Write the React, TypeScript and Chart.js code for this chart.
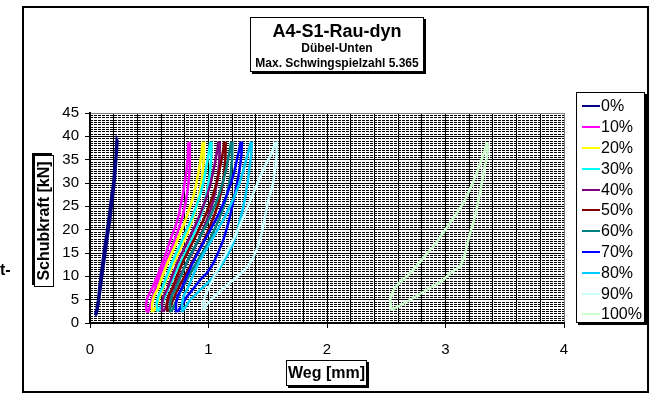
import React, { useEffect, useRef } from "react";
import { Chart, registerables } from "chart.js";

Chart.register(...registerables);

// ---------- data ----------
const chartTitle = "A4-S1-Rau-dyn";
const chartSubtitle1 = "Dübel-Unten";
const chartSubtitle2 = "Max. Schwingspielzahl 5.365";
const xTitle = "Weg [mm]";
const yTitle = "Schubkraft [kN]";
const strayText = "t-";

const seriesLabels = ["0%", "10%", "20%", "30%", "40%", "50%", "60%", "70%", "80%", "90%", "100%"];
const seriesColors = ["#000080", "#FF00FF", "#FFFF00", "#00FFFF", "#800080", "#800000", "#008080", "#0000FF", "#00CCFF", "#CCFFFF", "#CCFFCC"];

const xLabelValues = [0, 1, 2, 3, 4];
const yLabelValues = [0, 5, 10, 15, 20, 25, 30, 35, 40, 45];

// each loop: [Weg mm, Schubkraft kN]
const loop0: [number, number][] = [
  [0.042, 1.7], [0.055, 3], [0.068, 4.9], [0.08, 8], [0.095, 11], [0.105, 13], [0.12, 16], [0.14, 19.2], [0.155, 22], [0.166, 24.2], [0.172, 25.5], [0.185, 28], [0.197, 30], [0.205, 33], [0.212, 35], [0.218, 37], [0.225, 39.4],
  [0.232, 39], [0.226, 36.5], [0.219, 34], [0.21, 31], [0.198, 28], [0.183, 25], [0.172, 22.5], [0.158, 20], [0.146, 18], [0.13, 15], [0.113, 12], [0.1, 9.5], [0.085, 6.5], [0.07, 3.8], [0.055, 1.9], [0.042, 1.7],
];
const loop10: [number, number][] = [
  [0.478, 2.4], [0.472, 4], [0.485, 5.5], [0.52, 7.2], [0.55, 9], [0.577, 10.6], [0.6, 12.2], [0.619, 13.5], [0.645, 15.3], [0.669, 17.1], [0.7, 19.3], [0.731, 21.4], [0.752, 23.5], [0.774, 26.4], [0.79, 28.5], [0.802, 30.6], [0.815, 32.8], [0.821, 34.9], [0.826, 36.8], [0.83, 38.5],
  [0.842, 38.6], [0.843, 36], [0.842, 33.5], [0.835, 31], [0.824, 28.5], [0.808, 26], [0.787, 23.5], [0.762, 21.2], [0.735, 19.2], [0.708, 17.3], [0.68, 15.6], [0.65, 13.8], [0.623, 12.1], [0.592, 10.2], [0.565, 8.5], [0.54, 6.6], [0.522, 4.9], [0.505, 3.4], [0.49, 2.4], [0.478, 2.4],
];
const loop20: [number, number][] = [
  [0.529, 2.5], [0.524, 4.2], [0.54, 5.8], [0.575, 7.5], [0.619, 10.6], [0.655, 13], [0.689, 14.9], [0.725, 17], [0.76, 19.2], [0.79, 21], [0.816, 22.8], [0.845, 25], [0.872, 27.1], [0.895, 29.6], [0.914, 32.1], [0.93, 34.5], [0.942, 36.5], [0.951, 38.6],
  [0.962, 38.6], [0.96, 35], [0.948, 31.5], [0.93, 28.5], [0.905, 25.5], [0.875, 23], [0.84, 20.5], [0.8, 18], [0.76, 15.8], [0.72, 13.5], [0.68, 11.3], [0.64, 9], [0.605, 6.8], [0.575, 4.7], [0.55, 3], [0.529, 2.5],
];
const loop30: [number, number][] = [
  [0.568, 2.5], [0.563, 4.2], [0.578, 5.8], [0.61, 7.5], [0.655, 10.5], [0.69, 12.8], [0.725, 14.8], [0.765, 17], [0.8, 19], [0.835, 21], [0.865, 22.8], [0.9, 25.2], [0.93, 27.5], [0.955, 30], [0.975, 32.5], [0.992, 35], [1.005, 37], [1.013, 38.6],
  [1.025, 38.6], [1.022, 35], [1.01, 31.5], [0.99, 28.5], [0.965, 25.5], [0.935, 23], [0.9, 20.5], [0.86, 18], [0.815, 15.6], [0.77, 13.3], [0.73, 11.2], [0.69, 9], [0.65, 6.8], [0.615, 4.6], [0.59, 3], [0.568, 2.5],
];
const loop40: [number, number][] = [
  [0.613, 2.5], [0.608, 4.2], [0.622, 5.8], [0.655, 7.5], [0.7, 10.5], [0.735, 12.8], [0.772, 14.8], [0.815, 17], [0.853, 19], [0.89, 21], [0.922, 22.8], [0.958, 25.2], [0.99, 27.5], [1.018, 30], [1.04, 32.5], [1.06, 35], [1.074, 37], [1.083, 38.6],
  [1.095, 38.6], [1.092, 35], [1.08, 31.5], [1.06, 28.5], [1.033, 25.5], [1.0, 23], [0.962, 20.5], [0.92, 18], [0.873, 15.6], [0.825, 13.3], [0.782, 11.2], [0.738, 9], [0.695, 6.8], [0.658, 4.6], [0.635, 3], [0.613, 2.5],
];
const loop50: [number, number][] = [
  [0.653, 2.5], [0.648, 4.2], [0.662, 5.8], [0.695, 7.5], [0.742, 10.5], [0.778, 12.8], [0.816, 14.8], [0.86, 17], [0.9, 19], [0.937, 21], [0.97, 22.8], [1.007, 25.2], [1.04, 27.5], [1.068, 30], [1.09, 32.5], [1.11, 35], [1.124, 37], [1.133, 38.6],
  [1.145, 38.6], [1.142, 35], [1.13, 31.5], [1.11, 28.5], [1.082, 25.5], [1.048, 23], [1.01, 20.5], [0.966, 18], [0.918, 15.6], [0.868, 13.3], [0.823, 11.2], [0.778, 9], [0.733, 6.8], [0.695, 4.6], [0.672, 3], [0.653, 2.5],
];
const loop60: [number, number][] = [
  [0.681, 2.5], [0.676, 4.2], [0.69, 5.8], [0.725, 7.5], [0.775, 10.5], [0.812, 12.8], [0.852, 14.8], [0.898, 17], [0.94, 19], [0.98, 21], [1.015, 22.8], [1.055, 25.2], [1.09, 27.5], [1.12, 30], [1.145, 32.5], [1.165, 35], [1.18, 37], [1.19, 38.6],
  [1.202, 38.6], [1.199, 35], [1.186, 31.5], [1.165, 28.5], [1.135, 25.5], [1.1, 23], [1.06, 20.5], [1.013, 18], [0.962, 15.6], [0.908, 13.3], [0.86, 11.2], [0.812, 9], [0.765, 6.8], [0.725, 4.6], [0.7, 3], [0.681, 2.5],
];
const loop70: [number, number][] = [
  [0.731, 2.5], [0.726, 4.2], [0.74, 5.8], [0.775, 7.5], [0.825, 10.5], [0.865, 12.8], [0.905, 14.8], [0.952, 17], [0.995, 19], [1.037, 21], [1.075, 22.8], [1.118, 25.2], [1.155, 27.5], [1.19, 30], [1.218, 32.5], [1.24, 35], [1.258, 37], [1.27, 38.6],
  [1.282, 38.6], [1.278, 36], [1.266, 33.5], [1.245, 30.5], [1.224, 27.8], [1.2, 25], [1.181, 22.8], [1.155, 20.3], [1.125, 17.8], [1.085, 15.3], [1.041, 12.8], [0.99, 10.8], [0.928, 9.2], [0.87, 7.3], [0.816, 5.6], [0.775, 3.8], [0.745, 2.6], [0.731, 2.5],
];
const loop80: [number, number][] = [
  [0.782, 2.5], [0.777, 4.2], [0.79, 5.8], [0.825, 7.5], [0.875, 10.5], [0.915, 12.8], [0.958, 14.8], [1.008, 17], [1.055, 19], [1.1, 21], [1.14, 22.8], [1.185, 25.2], [1.225, 27.5], [1.262, 30], [1.292, 32.5], [1.318, 35], [1.34, 37], [1.356, 38.6],
  [1.366, 38.6], [1.36, 36], [1.345, 33], [1.33, 30], [1.31, 27], [1.29, 24.5], [1.265, 22], [1.238, 19.2], [1.2, 16.5], [1.153, 14.2], [1.1, 12], [1.041, 9.9], [0.985, 8.4], [0.928, 7.06], [0.88, 5.8], [0.844, 4.9], [0.81, 3.6], [0.788, 2.8], [0.782, 2.5],
];
const loop90: [number, number][] = [
  [0.962, 2.8], [0.958, 4.5], [0.975, 6], [1.01, 8], [1.06, 10.6], [1.105, 13], [1.15, 15], [1.2, 17.5], [1.25, 20], [1.3, 23], [1.345, 25.8], [1.39, 28.5], [1.43, 31], [1.48, 33.8], [1.525, 36], [1.565, 38.6],
  [1.578, 38.6], [1.575, 36], [1.565, 33.5], [1.545, 30], [1.525, 28], [1.505, 26.4], [1.478, 23], [1.449, 19.2], [1.415, 16.3], [1.37, 13.6], [1.32, 11.8], [1.255, 10.2], [1.18, 8.6], [1.097, 6.8], [1.03, 5.2], [0.98, 3.8], [0.962, 2.8],
];
const loop100: [number, number][] = [
  [2.546, 2.8], [2.532, 4.9], [2.56, 7.1], [2.61, 8.6], [2.672, 9.9], [2.73, 11.5], [2.785, 13.1], [2.84, 14.8], [2.897, 16.4], [2.95, 18.2], [2.996, 19.9], [3.045, 21.7], [3.094, 23.5], [3.14, 25.3], [3.179, 27.1], [3.22, 29.5], [3.263, 32.1], [3.3, 34.7], [3.333, 37.1], [3.347, 38.5],
  [3.353, 38.5], [3.355, 36.5], [3.345, 35], [3.33, 33.5], [3.31, 30.5], [3.291, 27.8], [3.27, 25.3], [3.249, 22.8], [3.228, 21], [3.207, 19.2], [3.185, 17], [3.165, 14.9], [3.145, 13.3], [3.122, 12.1], [3.08, 11.4], [3.038, 10.6], [2.968, 8.9], [2.9, 8], [2.841, 7.06], [2.77, 6], [2.7, 4.92], [2.62, 3.8], [2.546, 2.8],
];

const loops = [loop0, loop10, loop20, loop30, loop40, loop50, loop60, loop70, loop80, loop90, loop100];

// ---------- styles ----------
const FONT = "'Liberation Sans', Arial, Helvetica, sans-serif";
const near = (a: number, b: number) => Math.abs(a - b) < 1e-6;

export default function App() {
  const canvasRef = useRef<HTMLCanvasElement | null>(null);

  useEffect(() => {
    if (!canvasRef.current) return;
    const n = seriesLabels.length;
    const chart = new Chart(canvasRef.current, {
      type: "scatter",
      data: {
        datasets: seriesLabels.map((label, i) => ({
          label,
          data: loops[i].map(([x, y]) => ({ x, y })),
          showLine: true,
          borderColor: seriesColors[i],
          backgroundColor: seriesColors[i],
          borderWidth: 2.5,
          pointRadius: 0,
          pointHoverRadius: 0,
          tension: 0,
          fill: false,
          order: n - i,
        })),
      },
      options: {
        responsive: false,
        animation: false,
        devicePixelRatio: 1,
        layout: { padding: { left: 0, top: 113, right: 91, bottom: 0 } },
        plugins: {
          legend: { display: false },
          tooltip: { enabled: false },
          title: { display: false },
        },
        scales: {
          x: {
            type: "linear",
            position: "bottom",
            min: 0,
            max: 4,
            afterFit: (s: any) => {
              s.height = 71;
            },
            ticks: {
              stepSize: 0.2,
              maxTicksLimit: 1000,
              autoSkip: false,
              maxRotation: 0,
              minRotation: 0,
              padding: 13,
              color: "#000",
              font: { family: FONT, size: 15 },
              callback: (v: any) => {
                const hit = xLabelValues.find((t) => near(t, Number(v)));
                return hit === undefined ? "" : String(hit);
              },
            },
            grid: {
              color: (ctx: any) => (ctx.tick && near(ctx.tick.value, 4) ? "#808080" : "#000"),
              lineWidth: 1,
              tickLength: 5,
              tickColor: (ctx: any) =>
                ctx.tick && xLabelValues.some((t) => near(t, ctx.tick.value)) ? "#000" : "rgba(0,0,0,0)",
            },
            border: { color: "#000", width: 2 },
          },
          y: {
            type: "linear",
            position: "left",
            min: 0,
            max: 45,
            afterFit: (s: any) => {
              s.width = 90;
            },
            ticks: {
              stepSize: 5,
              autoSkip: false,
              padding: 6,
              color: "#000",
              font: { family: FONT, size: 15 },
              callback: (v: any) => {
                const hit = yLabelValues.find((t) => near(t, Number(v)));
                return hit === undefined ? "" : String(hit);
              },
            },
            grid: {
              color: (ctx: any) => (ctx.tick && near(ctx.tick.value, 45) ? "#808080" : "#000"),
              lineWidth: 1,
              tickLength: 5,
              tickColor: "#000",
            },
            border: { color: "#000", width: 2 },
          },
          yMinor: {
            type: "linear",
            position: "left",
            min: 0,
            max: 45,
            afterFit: (s: any) => {
              s.width = 0;
            },
            ticks: { stepSize: 0.5, maxTicksLimit: 1000, autoSkip: false, display: false },
            grid: {
              color: (ctx: any) =>
                ctx.tick && (near(ctx.tick.value, 45) || near(ctx.tick.value, 0)) ? "rgba(0,0,0,0)" : "#000",
              lineWidth: 1,
              drawTicks: false,
            },
            border: { display: false, dash: [3, 1] },
          },
        },
      } as any,
    });
    return () => chart.destroy();
  }, []);

  const boxBase: React.CSSProperties = {
    position: "absolute",
    boxSizing: "border-box",
    border: "1px solid #000",
    boxShadow: "2px 2px 0 #000",
    background: "#fff",
    color: "#000",
    fontFamily: FONT,
  };

  return (
    <div style={{ position: "absolute", left: 0, top: 0, width: 655, height: 394, background: "#fff", overflow: "hidden", fontFamily: FONT }}>
      <div
        style={{
          position: "absolute",
          left: 22,
          top: 6,
          width: 627,
          height: 387,
          boxSizing: "border-box",
          border: "2px solid #000",
        }}
      />
      <canvas ref={canvasRef} width={655} height={394} style={{ position: "absolute", left: 0, top: 0, width: 655, height: 394 }} />

      {/* title box */}
      <div style={{ ...boxBase, left: 250, top: 17, width: 174, height: 55, paddingTop: 3, textAlign: "center", fontWeight: "bold" }}>
        <div style={{ fontSize: 18, lineHeight: "20px" }}>{chartTitle}</div>
        <div style={{ fontSize: 12, lineHeight: "15px" }}>{chartSubtitle1}</div>
        <div style={{ fontSize: 12, lineHeight: "15px", whiteSpace: "nowrap" }}>{chartSubtitle2}</div>
      </div>

      {/* legend */}
      <div style={{ ...boxBase, left: 576, top: 92, width: 69, height: 231, paddingTop: 3 }}>
        {seriesLabels.map((label, i) => (
          <div key={label} style={{ height: 20.8, display: "flex", alignItems: "center", fontSize: 16, whiteSpace: "nowrap" }}>
            <div style={{ marginLeft: 5, width: 18, height: 2, background: seriesColors[i], flex: "none" }} />
            <span style={{ marginLeft: 1 }}>{label}</span>
          </div>
        ))}
      </div>

      {/* x axis title */}
      <div style={{ ...boxBase, left: 286, top: 360, width: 81, height: 26, fontSize: 16, fontWeight: "bold", lineHeight: "24px", textAlign: "center", whiteSpace: "nowrap" }}>
        {xTitle}
      </div>

      {/* y axis title (rotated) */}
      <div
        style={{
          ...boxBase,
          left: 44 - 66,
          top: 221 - 10,
          width: 132,
          height: 20,
          fontSize: 16,
          fontWeight: "bold",
          lineHeight: "18px",
          textAlign: "center",
          whiteSpace: "nowrap",
          transform: "rotate(-90deg)",
          boxShadow: "2px -2px 0 #000",
        }}
      >
        {yTitle}
      </div>

      {/* stray fragment */}
      <div style={{ position: "absolute", left: 0, top: 260, fontSize: 16, fontWeight: "bold", lineHeight: "20px", fontFamily: FONT }}>{strayText}</div>
    </div>
  );
}
